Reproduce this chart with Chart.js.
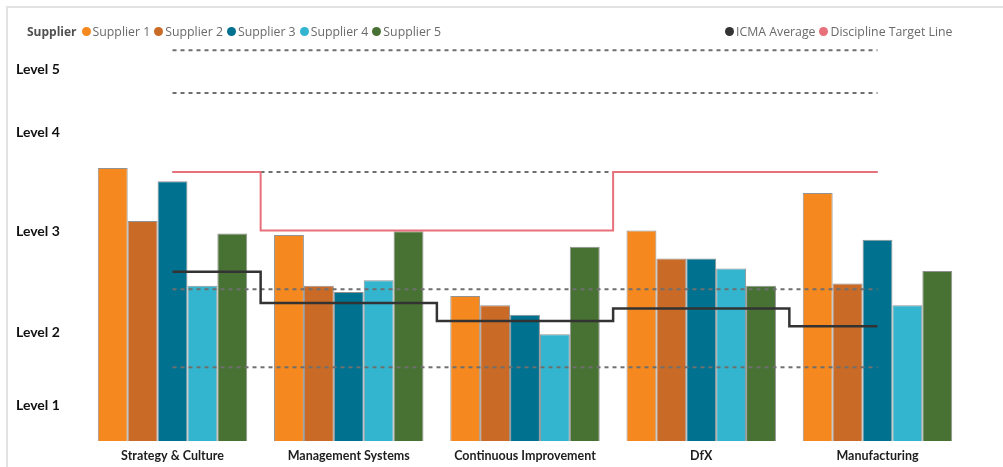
<!DOCTYPE html>
<html>
<head>
<meta charset="utf-8">
<script src="https://cdn.jsdelivr.net/npm/chart.js@4.4.1/dist/chart.umd.min.js"></script>
<style>
  html, body { margin: 0; padding: 0; background: #fff; }
  #wrap { position: relative; width: 1003px; height: 467px; overflow: hidden; background: #fff; }
  #frame { position: absolute; left: 6px; top: 6px; width: 1000px; height: 470px; border-top: 2px solid #e2e2e2; border-left: 2px solid #e2e2e2; }
  canvas { position: absolute; left: 0; top: 0; }
  .legend { position: absolute; top: 22px; height: 18px; display: flex; align-items: center; font-family: 'Open Sans', sans-serif; font-size: 12.3px; color: #6a6a6a; white-space: nowrap; }
  .legend .title { color: #505050; font-weight: 700; font-size: 12px; margin-right: 5px; }
  .legend .item { display: flex; align-items: center; margin-right: 4px; }
  .legend .dot { width: 9px; height: 9px; border-radius: 50%; margin-right: 2px; }
</style>
</head>
<body>
<div id="wrap">
  <div id="frame"></div>
  <canvas id="grafico" width="1003" height="467"></canvas>
  <div class="legend" id="legendSuppliers" style="left:27px"><span class="title">Supplier</span></div>
  <div class="legend" id="legendLines" style="left:725px"></div>
</div>
<script>
  // Datos
  const categories = ['Strategy & Culture', 'Management Systems', 'Continuous Improvement', 'DfX', 'Manufacturing'];
  const supplierNames = ['Supplier 1', 'Supplier 2', 'Supplier 3', 'Supplier 4', 'Supplier 5'];
  const supplierColors = ['#F5881F', '#C96A27', '#00718F', '#33B5CF', '#477233'];
  const supplier1 = [3.50, 2.64, 1.86, 2.70, 3.18];
  const supplier2 = [2.82, 1.99, 1.74, 2.34, 2.02];
  const supplier3 = [3.33, 1.91, 1.62, 2.34, 2.58];
  const supplier4 = [1.99, 2.06, 1.37, 2.21, 1.74];
  const supplier5 = [2.66, 2.69, 2.49, 1.99, 2.18];
  const icmaAverage = [2.17, 1.77, 1.54, 1.70, 1.47];
  const targetLine = [3.45, 2.70, 2.70, 3.45, 3.45];
  const levelBoundaries = [0.945, 1.945, 3.45, 4.46, 5.01];
  const levelLabels = ['Level 1', 'Level 2', 'Level 3', 'Level 4', 'Level 5'];
  const levelLabelPositions = [0.46, 1.385, 2.68, 3.95, 4.76];

  const icmaColor = '#333333';
  const targetColor = '#E8707A';

  // Leyenda (dos grupos, como en el original)
  function agregarItem(container, color, text) {
    const item = document.createElement('span');
    item.className = 'item';
    item.innerHTML = `<span class="dot" style="background:${color}"></span><span>${text}</span>`;
    container.appendChild(item);
  }
  const legendSuppliers = document.getElementById('legendSuppliers');
  supplierNames.forEach((name, i) => agregarItem(legendSuppliers, supplierColors[i], name));
  const legendLines = document.getElementById('legendLines');
  agregarItem(legendLines, icmaColor, 'ICMA Average');
  agregarItem(legendLines, targetColor, 'Discipline Target Line');

  const supplierData = [supplier1, supplier2, supplier3, supplier4, supplier5];

  const barDatasets = supplierData.map((data, i) => ({
    type: 'bar',
    label: supplierNames[i],
    data: data,
    backgroundColor: supplierColors[i],
    borderColor: 'rgba(110,110,110,0.75)',
    borderWidth: 1,
    categoryPercentage: 0.848,
    barPercentage: 1.0,
    order: 3
  }));

  // Líneas punteadas de referencia entre niveles
  const levelDatasets = levelBoundaries.map(v => ({
    type: 'line',
    label: 'level ' + v,
    data: [{ x: categories[0], y: v }, { x: categories[categories.length - 1], y: v }],
    borderColor: '#6f6f6f',
    borderWidth: 2,
    borderDash: [4, 4],
    pointRadius: 0,
    fill: false,
    order: 2
  }));

  const ctx = document.getElementById('grafico').getContext('2d');
  new Chart(ctx, {
    type: 'bar',
    data: {
      labels: categories,
      datasets: [
        ...barDatasets,
        ...levelDatasets,
        {
          type: 'line',
          label: 'Discipline Target Line',
          data: targetLine,
          borderColor: targetColor,
          borderWidth: 2,
          stepped: 'middle',
          pointRadius: 0,
          fill: false,
          order: 1
        },
        {
          type: 'line',
          label: 'ICMA Average',
          data: icmaAverage,
          borderColor: icmaColor,
          borderWidth: 2.5,
          stepped: 'middle',
          pointRadius: 0,
          fill: false,
          order: 0
        }
      ]
    },
    options: {
      responsive: false,
      animation: false,
      layout: { padding: { top: 35.4, right: 37.4, bottom: 0, left: 16 } },
      plugins: {
        legend: { display: false },
        tooltip: { enabled: false }
      },
      scales: {
        x: {
          grid: { display: false, drawTicks: false },
          border: { display: false },
          ticks: {
            color: '#1e1e1e',
            font: { family: 'Lato', size: 12.5, weight: 'bold' },
            padding: 7,
            maxRotation: 0,
            autoSkip: false
          },
          afterFit: function(scale) { scale.height = 26; }
        },
        y: {
          min: 0,
          max: 5.2,
          grid: { display: false, drawTicks: false },
          border: { display: false },
          afterBuildTicks: function(scale) {
            scale.ticks = levelLabelPositions.map(v => ({ value: v }));
          },
          ticks: {
            color: '#111',
            crossAlign: 'far',
            autoSkip: false,
            font: { family: 'Lato', size: 14, weight: 'bold' },
            callback: function(value, index) { return levelLabels[index]; }
          },
          afterFit: function(scale) { scale.width = 68.4; }
        }
      }
    }
  });
</script>
</body>
</html>
